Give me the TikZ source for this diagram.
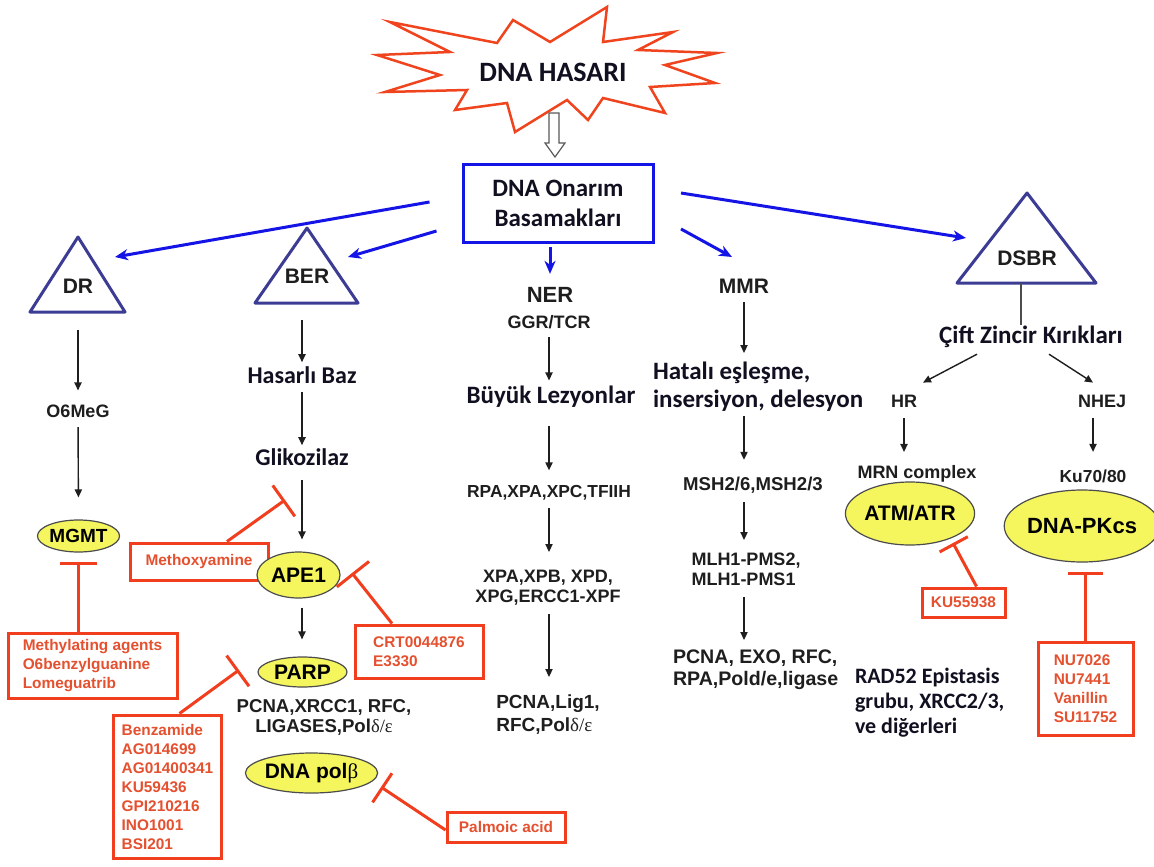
\documentclass[tikz,border=0pt]{standalone}
\usepackage{fontspec}
\setmainfont{Liberation Sans}
\newfontfamily\calfont{Carlito}
\newfontfamily\grkfont{Liberation Serif}
\usetikzlibrary{arrows.meta,shapes.geometric}
\definecolor{starred}{HTML}{F0441E}
\definecolor{redline}{HTML}{F03E1E}
\definecolor{redtext}{HTML}{E5502F}
\definecolor{blueline}{HTML}{1414E6}
\definecolor{triline}{HTML}{3C3C94}
\definecolor{yellowfill}{HTML}{F5F55E}
\definecolor{darktext}{HTML}{1E1E1E}
\definecolor{caltext}{HTML}{101020}
\newcommand\myfs[2]{\bfseries\fontsize{#1}{#2}\selectfont}
\newcommand\calfs[2]{\calfont\bfseries\fontsize{#1}{#2}\selectfont}
\begin{document}
\begin{tikzpicture}[x=0.5pt,y=-0.5pt,
  lab/.style={text=darktext, inner sep=0pt, outer sep=0pt},
  cal/.style={text=caltext, inner sep=0pt, outer sep=0pt},
  tri/.style={draw=triline, line width=1.5pt, line join=round},
  barrow/.style={draw=blueline, line width=1.5pt, -{Stealth[length=6.5pt,width=5.5pt,inset=2pt]}},
  arr/.style={draw=darktext, line width=0.7pt, -{Triangle[length=4pt,width=3.6pt]}},
  inh/.style={draw=redline, line width=1.5pt, -{Bar[width=#1]}},
  redbox/.style={draw=redline, line width=1.5pt, text=redtext, font=\myfs{7.7}{9.5}, align=left, inner sep=0pt},
  yell/.style={ellipse, draw=black!70, line width=0.6pt, fill=yellowfill, inner sep=0pt, text=black},
]
\fill[white] (0,0) rectangle (1154,866);
\useasboundingbox (0,0) rectangle (1154,866);

% star
\draw[draw=starred, line width=1.25pt, line join=miter, fill=white]
  (390,22) -- (497,43) -- (513,20) -- (550,42) -- (607,7) -- (603,42) -- (673,32) -- (638,50)
  -- (717,53) -- (665,65) -- (715,83) -- (650,87) -- (665,113) -- (603,98) -- (588,120)
  -- (567,100) -- (515,132) -- (507,103) -- (455,110) -- (467,90) -- (385,92) -- (440,75)
  -- (377,55) -- (450,52) -- cycle;
\node[cal, font=\calfs{14}{16}] (hasar) at (553,72.5) {DNA HASARI};

% hollow arrow
\draw[draw=gray!70!black, line width=0.6pt, fill=white]
  (549,113) -- (559,113) -- (559,143) -- (565,143) -- (555,157) -- (545,143) -- (549,143) -- cycle;

% main box
\node[cal, draw=blueline, line width=1.5pt, outer sep=0.75pt, minimum width=95pt, minimum height=38.5pt,
      align=center, font=\calfs{12.5}{15}] (box) at (558,203.5) {DNA Onarım\\Basamakları};

% triangles
\draw[tri] (30,312) -- (78,237) -- (125,312) -- cycle;
\node[lab, anchor=base, font=\myfs{10.5}{12}] (dr) at (78,293) {DR};
\coordinate (drin) at (115,257);
\draw[tri] (255,303) -- (307,228) -- (358,303) -- cycle;
\node[lab, anchor=base, font=\myfs{10.5}{12}] (ber) at (307,283) {BER};
\coordinate (berin) at (348,257);
\draw[tri] (957,283) -- (1027,193) -- (1096,283) -- cycle;
\node[lab, anchor=base, font=\myfs{10.5}{12}] (dsbr) at (1027,265) {DSBR};
\coordinate (dsbrin) at (966,238);
\coordinate (dsbase) at (1021,283);

% NER labels (needed for blue arrow)
\node[lab, anchor=base, font=\myfs{11}{13}] (ner) at (550,302) {NER};
\node[lab, anchor=base, font=\myfs{10.5}{12}] (mmr) at (744,293) {MMR};
\coordinate (mmrin) at (732,257);

% blue arrows
\draw[barrow] ([shift={(-32,-1.5)}]box.west) -- (drin);
\draw[barrow] ([shift={(-25,27.5)}]box.west) -- (berin);
\draw[barrow, shorten <=1.75pt, shorten >=6.5pt] (box.south -| ner) -- (ner.north);
\draw[barrow] ([shift={(26.5,25.5)}]box.east) -- (mmrin);
\draw[barrow] ([shift={(26.5,-10.5)}]box.east) -- (dsbrin);

% DR column
\node[lab, anchor=base, font=\myfs{9}{11}] (o6) at (78,417) {O6MeG};
\node[yell, minimum width=36.5pt, minimum height=16pt, font=\myfs{9.5}{11}] (mgmt) at (78.5,536) {MGMT};
\draw[arr, shorten <=18.5pt, shorten >=7pt] (dr.south) -- (o6.north);
\draw[arr, shorten <=5pt, shorten >=11pt] (o6.south) -- (mgmt.north);
\node[redbox, minimum width=84.5pt, minimum height=32.5pt] (mbox) at (92.5,665.5) {Methylating agents\\O6benzylguanine\\Lomeguatrib};
\coordinate (tmgmt) at (78,562);
\draw[inh=18.5pt] (mbox.north -| tmgmt) -- (tmgmt);

% BER column
\node[cal, anchor=base, font=\calfs{12}{14}] (hb) at (302,383) {Hasarlı Baz};
\node[cal, anchor=base, font=\calfs{12}{14}] (gl) at (302,465) {Glikozilaz};
\node[redbox, minimum width=69pt, minimum height=18.5pt] (meth) at (199,561.5) {Methoxyamine};
\node[yell, minimum width=41.5pt, minimum height=23pt, font=\myfs{10.5}{12}] (ape1) at (298.5,575) {APE1};
\draw[arr, shorten <=18.5pt, shorten >=2pt] (ber.south -| hb) -- (hb.north);
\draw[arr, shorten <=4.5pt, shorten >=1.5pt] (hb.south) -- (gl.north);
\draw[arr, shorten <=7.5pt, shorten >=6pt] (gl.south) -- (ape1.north -| gl.south);
\coordinate (tmeth) at (285,500);
\draw[inh=19pt] ([shift={(28,0)}]meth.north) -- (tmeth);
\node[redbox, minimum width=64pt, minimum height=26.5pt] (crt) at (419,651.5) {CRT0044876\\E3330};
\coordinate (tcrt) at (352,573);
\draw[inh=20.5pt] ([shift={(-27,0)}]crt.north) -- (tcrt);
\node[yell, minimum width=44.5pt, minimum height=15pt, font=\myfs{10.5}{12}] (parp) at (302.5,672) {PARP};
\draw[arr, shorten <=4.5pt, shorten >=8.5pt] (ape1.south -| gl.south) -- (parp.north -| gl.south);
\node[lab, anchor=north, align=center, font=\myfs{9.3}{10}] (pxr) at (324,700) {PCNA,XRCC1, RFC,\\LIGASES,Pol{\grkfont\mdseries δ/ε}};
\node[redbox, minimum width=54pt, minimum height=71.5pt] (benz) at (167.5,786.5) {Benzamide\\AG014699\\AG01400341\\KU59436\\GPI210216\\INO1001\\BSI201};
\coordinate (tbenz) at (239,670);
\draw[inh=19pt] ([shift={(12,0)}]benz.north) -- (tbenz);
\node[yell, minimum width=63.5pt, minimum height=20pt, font=\myfs{10.5}{12}] (polb) at (311.5,773) {DNA pol{\grkfont\mdseries β}};
\node[redbox, minimum width=59pt, minimum height=15pt] (palm) at (506,827) {Palmoic acid};
\coordinate (tpalm) at (381,787);
\draw[inh=17.5pt] ([shift={(0,3)}]palm.west) -- (tpalm);

% NER column
\node[lab, anchor=base, font=\myfs{9}{11}] (ggr) at (549,328) {GGR/TCR};
\node[cal, anchor=base, font=\calfs{12.5}{14}] (bl) at (551,403) {Büyük Lezyonlar};
\node[lab, anchor=base, font=\myfs{8.7}{10}] (rpa) at (549,497) {RPA,XPA,XPC,TFIIH};
\node[lab, anchor=north, align=center, font=\myfs{9}{10}] (xpa) at (548,570) {XPA,XPB, XPD,\\XPG,ERCC1-XPF};
\node[lab, anchor=north, align=left, font=\myfs{9.5}{11.5}] (pcl) at (548,695) {PCNA,Lig1,\\RFC,Pol{\grkfont\mdseries δ/ε}};
\draw[arr, shorten <=4.5pt, shorten >=2.5pt] (ggr.south) -- (bl.north -| ggr.south);
\draw[arr, shorten <=9.5pt, shorten >=7.25pt] (bl.south -| ggr.south) -- (rpa.north -| ggr.south);
\draw[arr, shorten <=4.2pt, shorten >=9pt] (rpa.south -| ggr.south) -- (xpa.north -| ggr.south);
\draw[arr, shorten <=4.65pt, shorten >=9pt] (xpa.south -| ggr.south) -- (pcl.north -| ggr.south);

% MMR column
\node[cal, anchor=north west, align=left, font=\calfs{12.5}{14}] (hat) at (653,362) {Hatalı eşleşme,\\insersiyon, delesyon};
\node[lab, anchor=base, font=\myfs{9.3}{11}] (msh) at (753,490) {MSH2/6,MSH2/3};
\node[lab, anchor=north, align=left, font=\myfs{9}{10}] (mlh) at (746,553) {MLH1-PMS2,\\MLH1-PMS1};
\node[lab, anchor=north west, align=left, font=\myfs{9.8}{11}] (pex) at (673,650) {PCNA, EXO, RFC,\\RPA,Pold/e,ligase};
\draw[arr, shorten <=4.5pt, shorten >=4.5pt] (mmr.south) -- (hat.north -| mmr.south);
\draw[arr, shorten <=2.5pt, shorten >=8.35pt] (hat.south -| mmr.south) -- (msh.north -| mmr.south);
\draw[arr, shorten <=4.5pt, shorten >=6.5pt] (msh.south -| mmr.south) -- (mlh.north -| mmr.south);
\draw[arr, shorten <=5.5pt, shorten >=5pt] (mlh.south -| mmr.south) -- (pex.north -| mmr.south);

% DSBR column
\node[cal, anchor=base, font=\calfs{12.5}{14}] (cz) at (1031,343) {Çift Zincir Kırıkları};
\draw[draw=gray!60!black, line width=0.8pt] (dsbase) -- (cz.north -| dsbase);
\node[lab, anchor=base, font=\myfs{9}{11}] (hr) at (904,407) {HR};
\node[lab, anchor=base, font=\myfs{9}{11}] (nhej) at (1102,407) {NHEJ};
\draw[arr] ([shift={(-54,7)}]cz.south) -- ([shift={(19,-12)}]hr.north);
\draw[arr] ([shift={(18,7)}]cz.south) -- ([shift={(-9,-12)}]nhej.north);
\node[lab, anchor=base, font=\myfs{9}{11}] (mrn) at (917,478) {MRN complex};
\node[lab, anchor=base, font=\myfs{8.7}{10}] (ku) at (1093,482) {Ku70/80};
\draw[arr, shorten <=5.5pt, shorten >=6.5pt] (hr.south) -- (mrn.north -| hr.south);
\draw[arr, shorten <=5.5pt, shorten >=8.75pt] (nhej.south -| ku.north) -- (ku.north);
\node[yell, minimum width=58pt, minimum height=31.5pt, font=\myfs{10.5}{12}] (atm) at (910,513.5) {ATM/ATR};
\node[yell, minimum width=70pt, minimum height=36pt, font=\myfs{11}{13}] (dnapk) at (1082,526) {DNA-PKcs};
\node[redbox, minimum width=41.5pt, minimum height=14.5pt] (ku55) at (963.5,602.5) {KU55938};
\coordinate (tatm) at (953,543);
\draw[inh=16pt] ([shift={(13,0)}]ku55.north) -- (tatm);
\node[redbox, minimum width=47.5pt, minimum height=46.5pt] (nubox) at (1085.5,688.5) {NU7026\\NU7441\\Vanillin\\SU11752};
\coordinate (tdna) at (1085.5,572);
\draw[inh=17.5pt] (nubox.north) -- (tdna);
\node[cal, anchor=north west, align=left, font=\calfs{11}{12.5}] (rad) at (855,668) {RAD52 Epistasis\\grubu, XRCC2/3,\\ve diğerleri};
\end{tikzpicture}
\end{document}
